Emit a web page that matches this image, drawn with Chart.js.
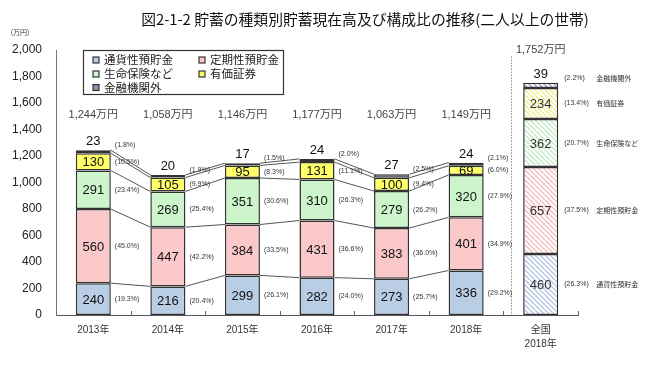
<!DOCTYPE html>
<html><head><meta charset="utf-8">
<script src="https://cdn.jsdelivr.net/npm/chart.js@4/dist/chart.umd.min.js"></script>
<style>html,body{margin:0;padding:0;background:#fff;} #wrap{width:660px;height:372px;position:relative;}</style>
</head><body><div id="wrap"><canvas id="c" width="660" height="372"></canvas></div>
<script>
// ---- data ----
const categories = ['2013年','2014年','2015年','2016年','2017年','2018年',['全国','2018年']];
const seriesNames = ['通貨性預貯金','定期性預貯金','生命保険など','有価証券','金融機関外'];
const demandDeposits = [240,216,299,282,273,336,460];
const timeDeposits   = [560,447,384,431,383,401,657];
const lifeInsurance  = [291,269,351,310,279,320,362];
const securities     = [130,105,95,131,100,69,234];
const nonFinancial   = [23,20,17,24,27,24,39];
const totals         = [1244,1058,1146,1177,1063,1149,1752];
const pctDemand      = [19.3,20.4,26.1,24.0,25.7,29.2,26.3];
const pctTime        = [45.0,42.2,33.5,36.6,36.0,34.9,37.5];
const pctInsurance   = [23.4,25.4,30.6,26.3,26.2,27.9,20.7];
const pctSecurities  = [10.5,9.9,8.3,11.1,9.4,6.0,13.4];
const pctNonFin      = [1.8,1.9,1.5,2.0,2.5,2.1,2.2];
const yMin = 0, yMax = 2000, yStep = 200;
const title = '図2-1-2 貯蓄の種類別貯蓄現在高及び構成比の推移(二人以上の世帯)';
const unitLabel = '(万円)';

const seriesValues = [demandDeposits, timeDeposits, lifeInsurance, securities, nonFinancial];
const seriesPcts = [pctDemand, pctTime, pctInsurance, pctSecurities, pctNonFin];
const solidColors = ['#b9cde5','#fac8c8','#ccf5cc','#ffff66','#8e88b4'];
const hatchColors = ['#b0c4e2','#f5b8b8','#bfeabf','#eeee80','#8a86bc'];

function hatch(color){
  const s = 5;
  const c = document.createElement('canvas'); c.width = s; c.height = s;
  const g = c.getContext('2d');
  g.fillStyle = '#fff'; g.fillRect(0,0,s,s);
  g.strokeStyle = color; g.lineWidth = 1.3;
  g.beginPath();
  for (const o of [-s,0,s]) { g.moveTo(o,0); g.lineTo(o+s,s); }
  g.stroke();
  return g.createPattern(c,'repeat');
}

const FONT = '"Liberation Sans","Noto Sans CJK JP",sans-serif';
const JFONT = '"Noto Sans CJK JP","Liberation Sans",sans-serif';
Chart.defaults.font.family = FONT;

const datasets = seriesValues.map((vals, k) => ({
  label: seriesNames[k],
  data: vals,
  backgroundColor: vals.map((v,i) => i === vals.length-1 ? hatch(hatchColors[k]) : solidColors[k]),
  borderColor: '#333',
  borderWidth: 1.5,
  borderSkipped: false,
  categoryPercentage: 1,
  barPercentage: 0.47,
  stack: 's'
}));

const fmt = n => n.toLocaleString('en-US');

const annot = {
  id: 'annot',
  afterDatasetsDraw(chart){
    const ctx = chart.ctx, xs = chart.scales.x, ys = chart.scales.y, ca = chart.chartArea;
    const metas = chart.data.datasets.map((d,i) => chart.getDatasetMeta(i));
    const n = categories.length;
    ctx.save();
    // connecting lines between yearly bars
    ctx.strokeStyle = '#555'; ctx.lineWidth = 1;
    for (let i = 0; i < n-2; i++) {
      metas.forEach(m => {
        const a = m.data[i], b = m.data[i+1];
        ctx.beginPath();
        ctx.moveTo(a.x + a.width/2, a.y);
        ctx.lineTo(b.x - b.width/2, b.y);
        ctx.stroke();
      });
    }
    // value labels
    ctx.font = '13px ' + FONT;
    ctx.textAlign = 'center';
    metas.forEach((m,k) => {
      m.data.forEach((el,i) => {
        const v = seriesValues[k][i];
        ctx.fillStyle = i === n-1 && k < 4 ? '#333' : '#111';
        if (k < 4) { ctx.textBaseline = 'middle'; ctx.fillText(String(v), el.x, (el.y+el.base)/2 + 1); }
        else { ctx.textBaseline = 'bottom'; ctx.fillText(String(v), el.x, el.y - 2); }
      });
    });
    // percentage labels
    ctx.font = '7px ' + FONT;
    ctx.fillStyle = '#333';
    ctx.textAlign = 'left'; ctx.textBaseline = 'middle';
    metas.forEach((m,k) => {
      m.data.forEach((el,i) => {
        const p = '(' + seriesPcts[k][i].toFixed(1) + '%)';
        const off = i === n-1 ? 6 : 4;
        let yy = k < 4 ? (el.y+el.base)/2 : el.y - 5;
        if (k === 3 && i < n-1) yy = Math.max(yy, m.data[i].y + 0) ;
        ctx.fillText(p, el.x + el.width/2 + off, yy);
      });
    });
    // national side names
    ctx.font = '7px ' + JFONT;
    metas.forEach((m,k) => {
      const el = m.data[n-1];
      let yy = k < 4 ? (el.y+el.base)/2 : el.y - 5;
      ctx.fillText(seriesNames[k], el.x + el.width/2 + 38, yy);
    });
    // totals
    ctx.font = '11px ' + FONT;
    ctx.fillStyle = '#444';
    ctx.textAlign = 'center'; ctx.textBaseline = 'middle';
    totals.forEach((t,i) => {
      const yy = i === n-1 ? ys.getPixelForValue(yMax) : ys.getPixelForValue(1510);
      ctx.fillText(fmt(t) + '万円', xs.getPixelForValue(i), yy);
    });
    // dotted separator
    const sx = Math.round(xs.getPixelForValue(5.6)) + 0.5;
    ctx.strokeStyle = '#555'; ctx.lineWidth = 1; ctx.setLineDash([1,2]);
    ctx.beginPath(); ctx.moveTo(sx, ys.getPixelForValue(1950)); ctx.lineTo(sx, ca.bottom); ctx.stroke();
    ctx.setLineDash([]);
    // inward x ticks
    ctx.strokeStyle = '#666';
    for (let k = 0; k <= n; k++) {
      const px = Math.round(xs.getPixelForValue(k - 0.5)) + 0.5;
      ctx.beginPath(); ctx.moveTo(px, ca.bottom); ctx.lineTo(px, ca.bottom - 4); ctx.stroke();
    }
    // legend
    const lx = 83, ly = 50, lw = 200, lh = 44;
    ctx.fillStyle = '#fff'; ctx.fillRect(lx, ly, lw, lh);
    ctx.strokeStyle = '#333'; ctx.lineWidth = 1.2; ctx.strokeRect(lx+0.5, ly+0.5, lw, lh);
    const pos = [[93,60],[199,60],[93,74],[199,74],[93,87.5]];
    ctx.font = '11.5px ' + JFONT; ctx.textAlign = 'left'; ctx.textBaseline = 'middle';
    seriesNames.forEach((nm,k) => {
      const [px,py] = pos[k];
      ctx.fillStyle = solidColors[k]; ctx.fillRect(px, py-3, 6, 6);
      ctx.strokeStyle = '#333'; ctx.lineWidth = 1.2; ctx.strokeRect(px, py-3, 6, 6);
      ctx.fillStyle = '#222'; ctx.fillText(nm, px + 11, py);
    });
    // title and unit
    ctx.fillStyle = '#111'; ctx.textAlign = 'center'; ctx.textBaseline = 'middle';
    ctx.font = '14.8px ' + JFONT;
    ctx.fillText(title, 365, 19);
    ctx.font = '7px ' + JFONT; ctx.fillStyle = '#333';
    ctx.fillText(unitLabel, 20, 32);
    ctx.restore();
  }
};

new Chart(document.getElementById('c'), {
  type: 'bar',
  data: { labels: categories, datasets },
  options: {
    responsive: false,
    animation: false,
    devicePixelRatio: 1,
    layout: { padding: { top: 50, right: 82, bottom: 0, left: 0 } },
    plugins: { legend: { display: false }, tooltip: { enabled: false }, title: { display: false } },
    scales: {
      x: {
        stacked: true,
        grid: { display: false, drawTicks: false },
        border: { display: true, color: '#555', width: 1 },
        ticks: { color: '#333', font: { size: 10, lineHeight: 1.4 }, padding: 8, maxRotation: 0, autoSkip: false },
        afterFit(s){ s.height = 57; }
      },
      y: {
        stacked: true,
        min: yMin, max: yMax,
        grid: { display: false, drawTicks: false },
        border: { display: true, color: '#777', width: 1 },
        ticks: { stepSize: yStep, color: '#222', font: { size: 12 }, padding: 14, callback: v => fmt(v) },
        afterFit(s){ s.width = 56; }
      }
    }
  },
  plugins: [annot]
});
</script>
</body></html>
